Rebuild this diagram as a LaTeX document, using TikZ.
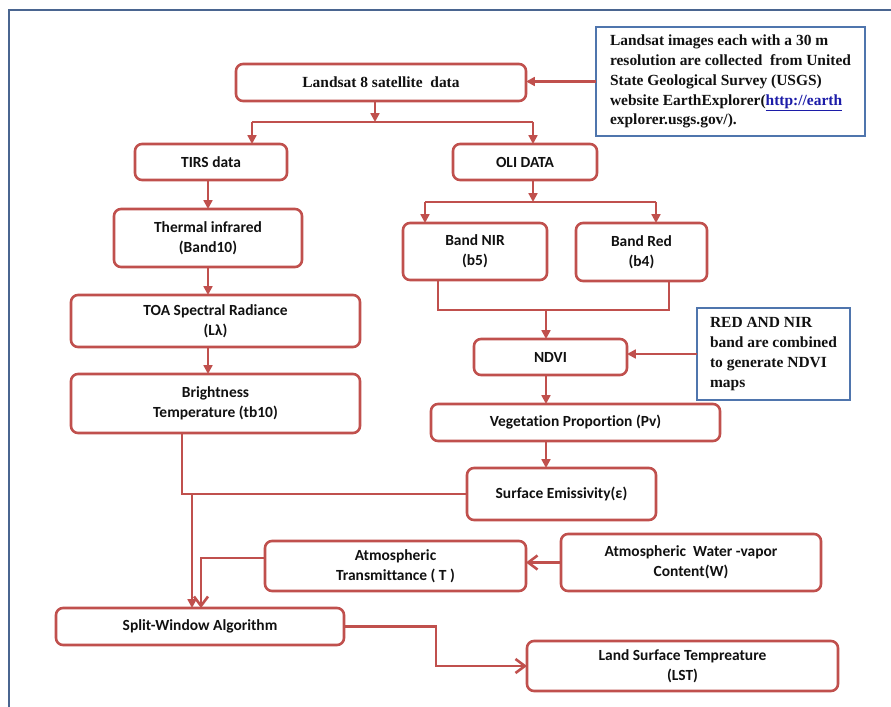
\documentclass[tikz,border=0pt]{standalone}
\usepackage{fontspec}
\setmainfont{Liberation Serif}
\newfontfamily\cali[Ligatures=NoCommon]{Carlito}
\usetikzlibrary{arrows.meta,calc}
\definecolor{ink}{HTML}{111111}
\definecolor{bRed}{HTML}{C0504D}
\definecolor{nBlue}{HTML}{4F75AD}
\definecolor{fBlue}{HTML}{4A6590}
\definecolor{lBlue}{HTML}{1C1CA8}
\newcommand\boxsize{\fontsize{13.2}{17}\selectfont}
\tikzset{
  stepbox/.style={draw=bRed, line width=2.2pt, rounded corners=6pt, fill=white, align=center, outer sep=0pt, inner sep=1pt, font=\cali\bfseries\boxsize, text=ink},
  notebox/.style={draw=nBlue, line width=2.2pt, fill=white, align=left, outer sep=0pt, inner sep=1pt, font=\bfseries\boxsize, text=ink},
  flow/.style={draw=bRed, line width=2.2pt},
  arr/.style={flow, -{Triangle[length=7.5pt,width=7.5pt]}},
  barb/.style={flow, -{Straight Barb[length=8pt,width=12pt]}},
}

\begin{document}
\begin{tikzpicture}[x=0.03cm, y=-0.03cm]
\useasboundingbox (0,0) rectangle (891,707);
\draw[fBlue, line width=2.4pt] (9,720) |- (905,10);
% source
\node[stepbox, font=\bfseries\boxsize, minimum width=8.7cm, minimum height=1.11cm] (land) at (381,82.5) {Landsat 8 satellite~ data};
\node[notebox, minimum width=8.07cm, minimum height=3.27cm] (usgs) at (730.5,81.5) {Landsat images each with a 30 m\\ resolution are collected\ \ from United\\ State Geological Survey (USGS)\\ website EarthExplorer(\textcolor{lBlue}{\underline{http://earth}}\\ explorer.usgs.gov/).};
% thermal branch
\node[stepbox, minimum width=4.56cm, minimum height=1.08cm] (tirs) at (211,162) {TIRS data};
\node[stepbox, minimum width=5.64cm, minimum height=1.74cm] (therm) at (208,238) {Thermal infrared\\ (Band10)};
\node[stepbox, minimum width=8.67cm, minimum height=1.56cm] (toa) at (215.5,321) {TOA Spectral Radiance\\ (Lλ)};
\node[stepbox, minimum width=8.67cm, minimum height=1.77cm] (bt) at (215.5,403.5) {Brightness\\ Temperature (tb10)};
% optical branch
\node[stepbox, minimum width=4.32cm, minimum height=1.08cm] (oli) at (525,162) {OLI DATA};
\node[stepbox, minimum width=4.32cm, minimum height=1.71cm] (nir) at (475,251.5) {Band NIR\\ (b5)};
\node[stepbox, minimum width=3.93cm, minimum height=1.74cm] (red) at (641.5,252) {Band Red\\ (b4)};
\node[stepbox, minimum width=4.59cm, minimum height=1.08cm] (ndvi) at (550.5,357) {NDVI};
\node[notebox, minimum width=4.59cm, minimum height=2.76cm] (mix) at (773.5,354) {RED AND NIR\\ band are combined\\ to generate\ NDVI\\ maps};
\node[stepbox, minimum width=8.67cm, minimum height=1.11cm] (pv) at (575.5,422.5) {Vegetation Proportion (Pv)};
\node[stepbox, minimum width=5.67cm, minimum height=1.56cm] (emis) at (561.5,494) {Surface Emissivity(ε)};
% atmosphere and result
\node[stepbox, minimum width=7.83cm, minimum height=1.5cm] (trans) at (395.5,566) {Atmospheric\\ Transmittance ( T )};
\node[stepbox, minimum width=7.8cm, minimum height=1.71cm] (wv) at (691,562.5) {Atmospheric\ \ Water -vapor\\ Content(W)};
\node[stepbox, minimum width=8.64cm, minimum height=1.11cm] (swa) at (200,626.5) {Split-Window Algorithm};
\node[stepbox, minimum width=9.33cm, minimum height=1.5cm] (lst) at (682.5,666) {Land Surface Tempreature\\ (LST)};
% junctions
\coordinate (fm) at (375,122);
\coordinate (fl) at (252,122);
\coordinate (fr) at (533,122);
\coordinate (gl) at (425,202);
\coordinate (gr) at (656,202);
\coordinate (hl) at (438,310);
\coordinate (hr) at (669,310);
\coordinate (hm) at (546,310);
\coordinate (em) at (182,494);
\coordinate (ed) at (192,494);
\coordinate (td) at (201,558);
\coordinate (sw) at (436,666);
% connectors
\draw[arr] (usgs.west) -- (usgs.west -| land.east);
\draw[arr] (land.south -| fm) -- (fm);
\draw[flow] (fl) -- (fr);
\draw[arr] (fl) -- (fl |- tirs.north);
\draw[arr] (fr) -- (fr |- oli.north);
\draw[arr] (tirs.south -| therm) -- (therm.north);
\draw[arr] (therm.south) -- (therm.south |- toa.north);
\draw[arr] (toa.south -| therm) -- (bt.north -| therm);
\draw[arr] (oli.south -| fr) -- (fr |- gl);
\draw[flow] (gl) -- (gr);
\draw[arr] (gl) -- (gl |- nir.north);
\draw[arr] (gr) -- (gr |- red.north);
\draw[flow] (nir.south -| hl) -- (hl) -- (hr) -- (red.south -| hr);
\draw[arr] (hm) -- (hm |- ndvi.north);
\draw[arr] (mix.west) -- (mix.west -| ndvi.east);
\draw[arr] (ndvi.south -| hm) -- (pv.north -| hm);
\draw[arr] (pv.south -| hm) -- (emis.north -| hm);
\draw[flow] (bt.south -| em) -- (em) -- (emis.west);
\draw[arr] (ed) -- (ed |- swa.north);
\draw[barb] (trans.west |- td) -- (td) -- (td |- swa.north);
\draw[barb] (wv.west) -- (wv.west -| trans.east);
\draw[barb] (swa.east) -| (sw) -- (lst.west);
\end{tikzpicture}
\end{document}
